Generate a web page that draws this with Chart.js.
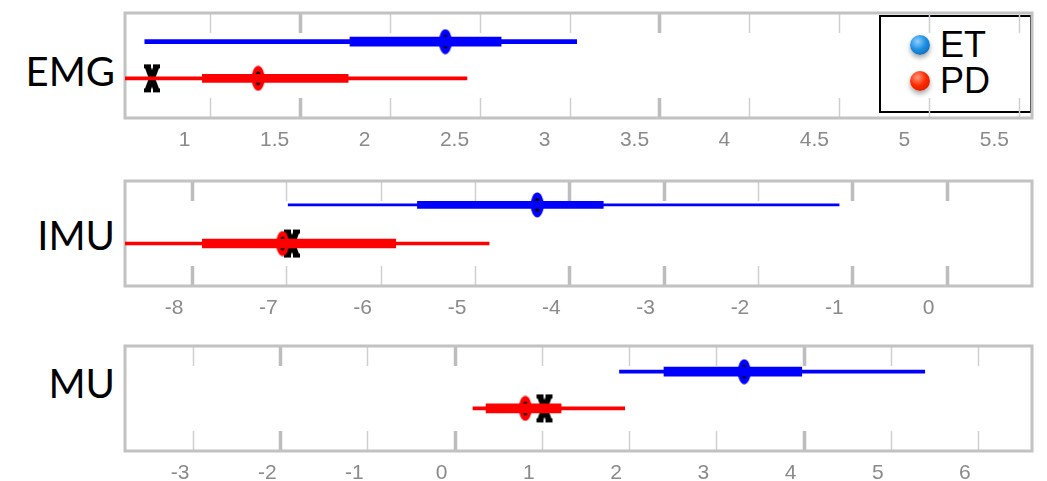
<!DOCTYPE html>
<html>
<head>
<meta charset="utf-8">
<script src="https://cdn.jsdelivr.net/npm/chart.js@4/dist/chart.umd.min.js"></script>
<style>
  html, body { margin: 0; padding: 0; background: #fff; overflow: hidden; }
  body { position: relative; width: 1047px; height: 481px; }
  canvas { position: absolute; left: 0; }
  .name { position: absolute; right: 932px; font: 40px Lato, sans-serif; line-height: 40px; color: #000; }
  #legend { position: absolute; left: 879px; top: 15px; width: 149px; height: 84px; border: 2px solid #000;
            background: #fff; padding-top: 10px; box-sizing: content-box; }
  #legend .row { display: flex; align-items: center; height: 36px; font: 36px "Liberation Sans", Arial, sans-serif; }
  #legend .ball { width: 20px; height: 20px; border-radius: 50%; margin: 0 10px 0 29px;
                  box-shadow: 0 3px 5px rgba(0,0,0,0.35); }
</style>
</head>
<body>
<div id="legend"></div>
<script>
const groups = ['ET', 'PD'];
const panelNames = ['EMG', 'IMU', 'MU'];

// EMG
const emgMin = [0.64, 0.45];
const emgQ1 = [1.78, 0.96];
const emgMedian = [2.31, 1.27];
const emgQ3 = [2.62, 1.77];
const emgMax = [3.04, 2.43];
const emgSample = [null, 0.68];

// IMU
const imuMin = [-6.98, -9.0];
const imuQ1 = [-5.61, -7.89];
const imuMedian = [-4.34, -7.04];
const imuQ3 = [-3.64, -5.84];
const imuMax = [-1.14, -4.85];
const imuSample = [null, -6.94];

// MU
const muMin = [1.89, 0.21];
const muQ1 = [2.40, 0.36];
const muMedian = [3.32, 0.81];
const muQ3 = [3.98, 1.22];
const muMax = [5.39, 1.95];
const muSample = [null, 1.03];

// axis range and tick step per panel
const xRanges = [[0.53, 5.57], [-8.71, 0.905], [-3.78, 6.62]];
const xSteps = [0.5, 1, 1];

const groupColors = ['#0000ff', '#ff0000'];
const ballGradients = [
  'radial-gradient(circle at 38% 32%, #8fd0ff 0%, #1e8fe3 45%, #0a5aa0 100%)',
  'radial-gradient(circle at 38% 32%, #ff9a80 0%, #ff2a00 45%, #c01500 100%)'
];

const panels = [
  {min: emgMin, q1: emgQ1, median: emgMedian, q3: emgQ3, max: emgMax, sample: emgSample},
  {min: imuMin, q1: imuQ1, median: imuMedian, q3: imuQ3, max: imuMax, sample: imuSample},
  {min: muMin, q1: muQ1, median: muMedian, q3: muQ3, max: muMax, sample: muSample}
];

// canvas placement, row spacing and line weights for each panel
const layouts = [
  {top: 8, nameTop: 51, rows: [-0.78, 2.08], labelShift: -25, heavy: [1.5, 3.5], whisker: [4, 3], box: [9, 8]},
  {top: 176, nameTop: 215, rows: [-0.62, 2.10], labelShift: -18, heavy: [-8, -4, -3, -1, 0], whisker: [2, 3], box: [7, 9]},
  {top: 341, nameTop: 363, rows: [-0.70, 2.16], labelShift: -13, heavy: [-2, 0, 4], whisker: [3, 3], box: [9, 9]}
];

// median marker: coloured oval with a black core
function medianIcon(color) {
  const c = document.createElement('canvas');
  c.width = 14; c.height = 26;
  const g = c.getContext('2d');
  g.fillStyle = color;
  g.beginPath(); g.ellipse(7, 13, 6.5, 12.5, 0, 0, Math.PI * 2); g.fill();
  g.fillStyle = '#000';
  g.beginPath(); g.ellipse(7, 13, 3, 7, 0, 0, Math.PI * 2); g.fill();
  return c;
}

// bold black X
function crossIcon() {
  const c = document.createElement('canvas');
  c.width = 20; c.height = 30;
  const g = c.getContext('2d');
  g.strokeStyle = '#000';
  g.lineWidth = 6;
  g.beginPath();
  g.moveTo(5.5, 3); g.lineTo(14.5, 27);
  g.moveTo(14.5, 3); g.lineTo(5.5, 27);
  g.stroke();
  g.lineWidth = 4;
  g.beginPath();
  g.moveTo(2, 3); g.lineTo(9, 3); g.moveTo(11, 3); g.lineTo(18, 3);
  g.moveTo(2, 27); g.lineTo(9, 27); g.moveTo(11, 27); g.lineTo(18, 27);
  g.stroke();
  return c;
}

const medianIcons = groupColors.map(medianIcon);
const cross = crossIcon();

// grey frame with short inward tick marks at top and bottom
const frameMarks = {
  id: 'frameMarks',
  beforeDatasetsDraw(chart, args, opts) {
    const {ctx, chartArea: a, scales: {x}} = chart;
    ctx.save();
    x.ticks.forEach(t => {
      const px = Math.round(x.getPixelForValue(t.value)) + 0.5;
      const heavy = opts.heavy.some(v => Math.abs(v - t.value) < 1e-6);
      ctx.strokeStyle = heavy ? '#bdbdbd' : '#d0d0d0';
      ctx.lineWidth = heavy ? 3.5 : 1.5;
      ctx.beginPath();
      ctx.moveTo(px, a.top); ctx.lineTo(px, a.top + 20);
      ctx.moveTo(px, a.bottom - 20); ctx.lineTo(px, a.bottom);
      ctx.stroke();
    });
    ctx.strokeStyle = '#c2c2c2';
    ctx.lineWidth = 3;
    ctx.strokeRect(a.left, a.top, a.width, a.height);
    ctx.restore();
  }
};

panels.forEach((p, k) => {
  const L = layouts[k];

  const name = document.createElement('div');
  name.className = 'name';
  name.style.top = L.nameTop + 'px';
  name.textContent = panelNames[k];
  document.body.appendChild(name);

  const cv = document.createElement('canvas');
  cv.width = 1047; cv.height = 140;
  cv.style.top = L.top + 'px';
  document.body.appendChild(cv);

  const datasets = [];
  groups.forEach((g, i) => {
    datasets.push({label: g + ' range', data: [{y: i, x: [p.min[i], p.max[i]]}],
                   backgroundColor: groupColors[i], barThickness: L.whisker[i]});
    datasets.push({label: g + ' IQR', data: [{y: i, x: [p.q1[i], p.q3[i]]}],
                   backgroundColor: groupColors[i], barThickness: L.box[i]});
  });
  datasets.push({type: 'scatter', label: 'median',
                 data: groups.map((g, i) => ({x: p.median[i], y: i})),
                 pointStyle: medianIcons});
  datasets.push({type: 'scatter', label: 'sample',
                 data: groups.map((g, i) => ({x: p.sample[i], y: i})).filter(d => d.x !== null),
                 pointStyle: cross});

  new Chart(cv, {
    type: 'bar',
    data: {datasets},
    plugins: [frameMarks],
    options: {
      responsive: false,
      animation: false,
      events: [],
      indexAxis: 'y',
      layout: {padding: {left: 125, right: 15, top: 4, bottom: 0}},
      datasets: {bar: {grouped: false, borderWidth: 0, borderSkipped: false}},
      plugins: {
        legend: {display: false},
        tooltip: {enabled: false},
        frameMarks: {heavy: L.heavy}
      },
      scales: {
        x: {
          type: 'linear',
          min: xRanges[k][0], max: xRanges[k][1],
          grid: {display: false},
          border: {display: false},
          ticks: {
            stepSize: xSteps[k], includeBounds: false, autoSkip: false, maxRotation: 0,
            labelOffset: L.labelShift, padding: 2, color: '#8a8a8a',
            font: {family: 'Liberation Sans', size: 21},
            callback: v => String(+v.toFixed(2))
          },
          afterFit(s) { s.height = 30; }
        },
        y: {type: 'linear', reverse: true, min: L.rows[0], max: L.rows[1], offset: false, display: false}
      }
    }
  });
});

// legend box
const legend = document.getElementById('legend');
groups.forEach((g, i) => {
  const row = document.createElement('div');
  row.className = 'row';
  const ball = document.createElement('span');
  ball.className = 'ball';
  ball.style.background = ballGradients[i];
  row.appendChild(ball);
  row.appendChild(document.createTextNode(g));
  legend.appendChild(row);
});
</script>
</body>
</html>
